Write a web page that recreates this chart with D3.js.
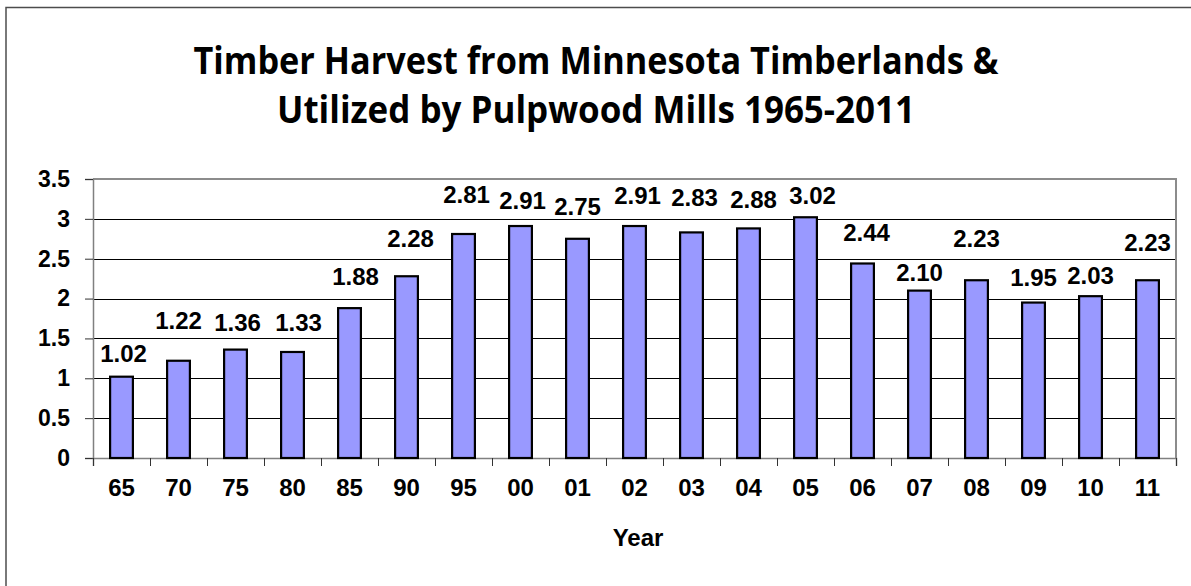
<!doctype html>
<html>
<head>
  <meta charset="utf-8">
  <title>Timber Harvest from Minnesota Timberlands</title>
  <script src="https://cdnjs.cloudflare.com/ajax/libs/d3/7.8.5/d3.min.js"></script>
  <style>
  body { margin: 0; background: #fff; }
  text { font-family: "Liberation Sans", Arial, sans-serif; font-weight: bold; fill: #000; }
  .title { font-family: "Open Sans", "Liberation Sans", sans-serif; font-size: 38px; }
  .bar { fill: #9999ff; stroke: #000; stroke-width: 2.2px; }
  .grid line { stroke: #000; stroke-width: 1px; }
  </style>
</head>
<body>
  <script>
  // data
  var years = ["65", "70", "75", "80", "85", "90", "95", "00", "01", "02",
               "03", "04", "05", "06", "07", "08", "09", "10", "11"];
  var harvest = [1.02, 1.22, 1.36, 1.33, 1.88, 2.28, 2.81, 2.91, 2.75, 2.91,
                 2.83, 2.88, 3.02, 2.44, 2.10, 2.23, 1.95, 2.03, 2.23];
  var yTicks = [0, 0.5, 1, 1.5, 2, 2.5, 3, 3.5];
  var titleLines = ["Timber Harvest from Minnesota Timberlands &",
                    "Utilized by Pulpwood Mills 1965-2011"];
  var xTitle = "Year";

  // labels were dragged around by hand in the original: px nudges
  var labelDx = [2, 0, 2, 6, 6, 4, 3, 2, 0, 3, 3, 5, 7, 4, 0, 0, 0, 0, 0];
  var labelLift = [15, 32, 19, 21, 23, 29, 31, 17, 24, 22, 26, 20, 13, 22, 10, 33, 17, 12, 29];

  var W = 1191, H = 586,
      margin = {top: 179, right: 15, bottom: 128, left: 93},
      width = W - margin.left - margin.right,
      height = H - margin.top - margin.bottom;

  var root = d3.select("body").append("svg")
      .attr("width", W)
      .attr("height", H);

  // chart area frame (runs off the right and bottom edge)
  root.append("rect")
    .attr("x", 6).attr("y", 7.5)
    .attr("width", 1220).attr("height", 620)
    .attr("fill", "none")
    .attr("stroke", "#4d4d4d")
    .attr("stroke-width", 1.5);

  root.selectAll(".title")
    .data(titleLines)
    .enter().append("text")
      .attr("class", "title")
      .attr("x", 596)
      .attr("y", function(d, i) { return 73.5 + i * 49.5; })
      .attr("text-anchor", "middle")
      .attr("textLength", function(d, i) { return i === 0 ? 805 : 638; })
      .attr("lengthAdjust", "spacingAndGlyphs")
      .text(function(d) { return d; });

  var svg = root.append("g")
      .attr("transform", "translate(" + margin.left + "," + margin.top + ")");

  var x = d3.scaleBand()
      .domain(years)
      .range([0, width])
      .paddingInner(0.6)
      .paddingOuter(0.3);

  var slot = d3.scaleLinear()
      .domain([0, years.length])
      .range([0, width]);

  var y = d3.scaleLinear()
      .domain([0, 3.5])
      .range([height, 0]);

  // horizontal gridlines
  svg.append("g")
    .attr("class", "grid")
    .selectAll("line")
    .data(yTicks.slice(1, -1))
    .enter().append("line")
      .attr("x1", 0).attr("x2", width)
      .attr("y1", function(d) { return Math.round(y(d)) + 0.5; })
      .attr("y2", function(d) { return Math.round(y(d)) + 0.5; });

  // plot border top + right
  svg.append("path")
    .attr("d", "M0," + y(3.5) + "H" + width + "V" + height)
    .attr("fill", "none")
    .attr("stroke", "#8c8c8c")
    .attr("stroke-width", 2);

  var yAxis = svg.append("g")
    .call(d3.axisLeft(y).tickValues(yTicks).tickSize(8).tickPadding(15)
      .tickFormat(function(d) { return d; }));
  yAxis.select(".domain").attr("stroke", "#808080").attr("stroke-width", 1.5);
  yAxis.selectAll(".tick line").attr("stroke", "#333");
  yAxis.selectAll("text").style("font-size", "23px");

  var xTicks = svg.append("g")
    .attr("transform", "translate(0," + height + ")")
    .call(d3.axisBottom(slot).tickValues(d3.range(years.length + 1))
      .tickSize(8).tickFormat(""));
  xTicks.select(".domain").attr("stroke", "#808080").attr("stroke-width", 1.5);
  xTicks.selectAll(".tick line").attr("stroke", "#333");

  var xAxis = svg.append("g")
    .attr("transform", "translate(0," + height + ")")
    .call(d3.axisBottom(x).tickSize(0).tickPadding(21));
  xAxis.select(".domain").remove();
  xAxis.selectAll("text").style("font-size", "24px");

  svg.selectAll(".bar")
    .data(harvest)
    .enter().append("rect")
      .attr("class", "bar")
      .attr("x", function(d, i) { return x(years[i]); })
      .attr("y", function(d) { return y(d); })
      .attr("width", x.bandwidth())
      .attr("height", function(d) { return height - y(d); });

  svg.selectAll(".label")
    .data(harvest)
    .enter().append("text")
      .attr("class", "label")
      .attr("x", function(d, i) { return x(years[i]) + x.bandwidth() / 2 + labelDx[i]; })
      .attr("y", function(d, i) { return y(d) - labelLift[i]; })
      .attr("text-anchor", "middle")
      .style("font-size", "24px")
      .text(d3.format(".2f"));

  root.append("text")
    .attr("x", 638)
    .attr("y", 546)
    .attr("text-anchor", "middle")
    .style("font-size", "24px")
    .text(xTitle);
  </script>
</body>
</html>
